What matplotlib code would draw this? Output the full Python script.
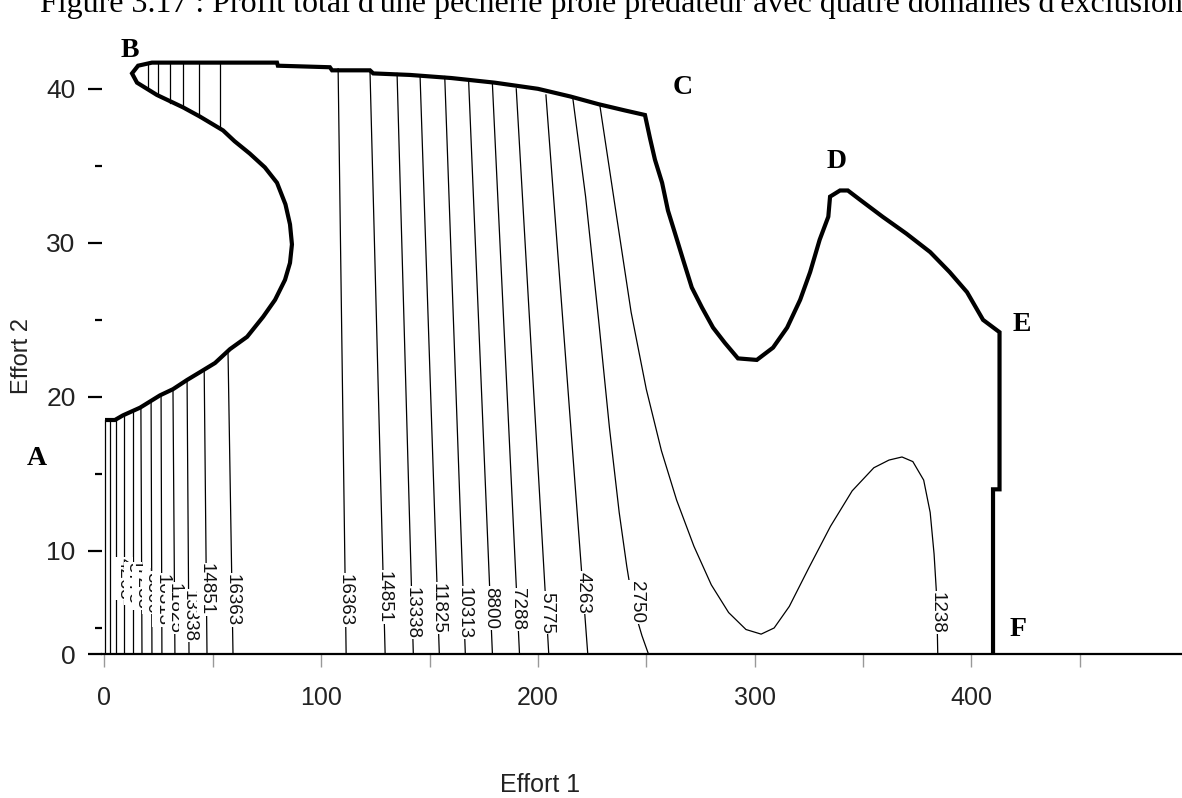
import matplotlib
matplotlib.use("Agg")
from matplotlib import pyplot as plt

# Outer limit of the exploitable domain (thick line A-B-C-D-E-F)
BOUNDARY_X = [1.2, 4.8, 8.5, 16.4, 25.6, 31.6, 38.1, 44.0, 51.0, 57.9, 65.8, 73.2, 78.7, 83.3, 85.6,
              86.5, 85.6, 83.5, 79.6, 74.0, 67.0, 60.0, 54.7, 44.0, 36.2, 24.2, 15.0, 12.7, 15.5,
              21.9, 79.6, 80.0, 104.0, 105.0, 122.5, 124.0, 141.0, 160.0, 180.0, 200.0, 215.0,
              228.0, 240.0, 249.4, 251.7, 254.0, 257.3, 260.0, 263.3, 267.0, 271.0, 275.7, 280.8,
              286.3, 292.3, 301.0, 308.5, 315.0, 321.0, 325.6, 330.0, 334.0, 334.8, 339.4, 343.0,
              348.6, 359.0, 370.0, 381.0, 390.0, 398.0, 405.4, 413.0, 413.0, 410.0, 410.0]
BOUNDARY_Y = [18.5, 18.5, 18.8, 19.3, 20.1, 20.5, 21.1, 21.6, 22.2, 23.1, 23.9, 25.2, 26.3, 27.6, 28.7,
              29.9, 31.2, 32.5, 33.9, 34.9, 35.8, 36.6, 37.3, 38.2, 38.8, 39.6, 40.4, 41.0, 41.5,
              41.7, 41.7, 41.5, 41.4, 41.2, 41.2, 41.0, 40.9, 40.7, 40.4, 40.0, 39.5,
              39.0, 38.6, 38.3, 36.8, 35.4, 33.9, 32.1, 30.6, 28.9, 27.1, 25.8, 24.5,
              23.5, 22.5, 22.4, 23.2, 24.5, 26.3, 28.1, 30.2, 31.7, 33.0, 33.4, 33.4,
              32.8, 31.7, 30.6, 29.4, 28.1, 26.8, 25.0, 24.2, 14.0, 14.0, 3.31]

Y_BOTTOM = 3.31

# Iso-profit levels
LEVELS = [1238, 2750, 4263, 5775, 7288, 8800, 10313, 11825, 13338, 14851, 16363]

# Left bundle (below A-B curve): x at top (on curve), y at top, x at bottom
LEFT_X_TOP = [2.5, 5.3, 9.0, 13.2, 16.8, 21.5, 26.1, 31.6, 38.1, 46.0, 57.0]
LEFT_Y_TOP = [18.55, 18.6, 18.8, 19.1, 19.4, 19.8, 20.2, 20.5, 21.1, 21.8, 22.9]
LEFT_X_BOT = [2.5, 5.3, 9.0, 13.2, 17.3, 21.9, 26.5, 32.5, 39.0, 47.3, 59.3]
LEFT_LABEL_Y = [None, None, 8.2, 7.9, 7.6, 7.3, 6.8, 6.3, 5.8, 7.5, 6.8]

# Short lines between the top edge and the upper branch of the A-B curve
UPPER_X = [20.0, 24.7, 30.2, 36.2, 43.6, 53.4]
UPPER_Y_TOP = [41.7, 41.7, 41.7, 41.7, 41.7, 41.7]
UPPER_Y_BOT = [40.0, 39.6, 39.1, 38.8, 38.2, 37.4]

# Right bundle, levels 16363 down to 4263
RIGHT_LEVELS = [16363, 14851, 13338, 11825, 10313, 8800, 7288, 5775, 4263]
RIGHT_X_TOP = [107.8, 122.5, 135.0, 145.6, 157.0, 168.0, 179.0, 190.0, 203.7]
RIGHT_Y_TOP = [41.3, 41.2, 41.0, 40.9, 40.8, 40.6, 40.3, 40.0, 39.6]
RIGHT_X_BOT = [111.5, 129.5, 142.5, 154.5, 166.5, 179.0, 191.5, 205.0, 223.0]
RIGHT_LABEL_Y = [6.8, 7.0, 6.0, 6.3, 6.0, 6.3, 6.2, 6.0, 7.3]

# Level 2750, right side (slightly curved)
L2750_X = [216.0, 222.0, 228.0, 233.0, 237.5, 241.0, 244.0, 248.0, 251.0]
L2750_Y = [39.5, 33.0, 25.0, 18.0, 12.5, 9.0, 6.4, 4.5, 3.31]

# Level 1238, from the top edge down, valley, hump and back to the axis
L1238_X = [228.5, 236.0, 243.0, 250.0, 257.0, 264.0, 272.0, 280.0, 288.0, 296.0, 303.0, 309.0, 316.0,
           325.0, 335.0, 345.0, 355.0, 362.0, 368.0, 373.0, 378.0, 381.0, 382.8, 383.8, 384.2, 384.5]
L1238_Y = [39.0, 32.0, 25.5, 20.5, 16.5, 13.3, 10.3, 7.8, 6.0, 4.9, 4.6, 5.0, 6.4,
           8.9, 11.6, 13.9, 15.4, 15.9, 16.1, 15.8, 14.6, 12.5, 9.8, 7.5, 5.5, 3.31]

TITLE = "Figure 3.17 : Profit total d'une pêcherie proie prédateur avec quatre domaines d'exclusion"
CORNERS = ["A", "B", "C", "D", "E", "F"]
CORNER_X = [-31.2, 11.8, 267.0, 337.6, 423.4, 421.6]
CORNER_Y = [16.0, 42.5, 40.1, 35.3, 24.7, 4.9]

SANS = ["Liberation Sans", "DejaVu Sans"]
SERIF = ["Liberation Serif", "DejaVu Serif"]
THIN = 0.9


def x_at(x_top, y_top, x_bot, y):
    # position of a straight iso-line at height y
    return x_bot + (x_top - x_bot) * (y - Y_BOTTOM) / (y_top - Y_BOTTOM)


def put_label(ax, x, y, value):
    ax.text(x, y, str(value), rotation=-90, ha="center", va="center", fontsize=13.5,
            family=SANS, color="#111111", zorder=4,
            bbox=dict(facecolor="white", edgecolor="none", pad=0.6))


fig = plt.figure(figsize=(11.82, 7.98), dpi=100)
ax = fig.add_axes([102 / 1182, 1 - 654 / 798, 1080 / 1182, 596 / 798])
ax.set_xlim(-1.15, 497.2)
ax.set_ylim(Y_BOTTOM, 42.0)

# Domain boundary
ax.plot(BOUNDARY_X, BOUNDARY_Y, color="black", lw=3.0, solid_joinstyle="miter", zorder=3)
ax.plot([0.2, 0.2], [Y_BOTTOM, 18.5], color="black", lw=THIN)

# Left bundle
for i, level in enumerate(LEVELS):
    ax.plot([LEFT_X_TOP[i], LEFT_X_BOT[i]], [LEFT_Y_TOP[i], Y_BOTTOM], color="black", lw=THIN)
    if LEFT_LABEL_Y[i] is not None:
        put_label(ax, x_at(LEFT_X_TOP[i], LEFT_Y_TOP[i], LEFT_X_BOT[i], LEFT_LABEL_Y[i]),
                  LEFT_LABEL_Y[i], level)

for x, yt, yb in zip(UPPER_X, UPPER_Y_TOP, UPPER_Y_BOT):
    ax.plot([x, x], [yt, yb], color="black", lw=THIN)

# Right bundle
for i, level in enumerate(RIGHT_LEVELS):
    ax.plot([RIGHT_X_TOP[i], RIGHT_X_BOT[i]], [RIGHT_Y_TOP[i], Y_BOTTOM], color="black", lw=THIN)
    put_label(ax, x_at(RIGHT_X_TOP[i], RIGHT_Y_TOP[i], RIGHT_X_BOT[i], RIGHT_LABEL_Y[i]),
              RIGHT_LABEL_Y[i], level)

ax.plot(L2750_X, L2750_Y, color="black", lw=THIN)
put_label(ax, 245.5, 6.7, 2750)
ax.plot(L1238_X, L1238_Y, color="black", lw=THIN)
put_label(ax, 384.2, 6.0, 1238)

# Corner letters
for name, x, y in zip(CORNERS, CORNER_X, CORNER_Y):
    ax.text(x, y, name, ha="center", va="center", fontsize=20, fontweight="bold",
            family=SERIF, clip_on=False)

# Axes styling
for side in ["left", "top", "right"]:
    ax.spines[side].set_visible(False)
ax.spines["bottom"].set_linewidth(1.6)

ax.set_xticks([0, 100, 200, 300, 400])
ax.set_xticks([50, 150, 250, 350, 450], minor=True)
ax.set_yticks([Y_BOTTOM, 10, 20, 30, 40])
ax.set_yticklabels(["0", "10", "20", "30", "40"])
ax.set_yticks([5, 15, 25, 35], minor=True)
ax.tick_params(axis="x", which="both", direction="out", length=9, width=1.0,
               color="#999999", pad=14, labelsize=18, labelcolor="#222222")
ax.tick_params(axis="y", which="major", direction="out", length=10, width=1.6,
               pad=9, labelsize=19, labelcolor="#222222")
ax.tick_params(axis="y", which="minor", direction="out", length=5, width=1.6)
for lab in ax.get_xticklabels() + ax.get_yticklabels():
    lab.set_family(SANS)

ax.set_ylabel("Effort 2", fontsize=17, family=SANS, color="#222222")
ax.yaxis.set_label_coords(-0.064, 0.5)
fig.text(540 / 1182, 1 - 785 / 798, "Effort 1", ha="center", va="center", fontsize=18,
         family=SANS, color="#222222")
fig.text(40 / 1182, 1 - 12 / 798, TITLE, ha="left", va="baseline", fontsize=23, family=SERIF)

fig.savefig("out.png", dpi=100)
